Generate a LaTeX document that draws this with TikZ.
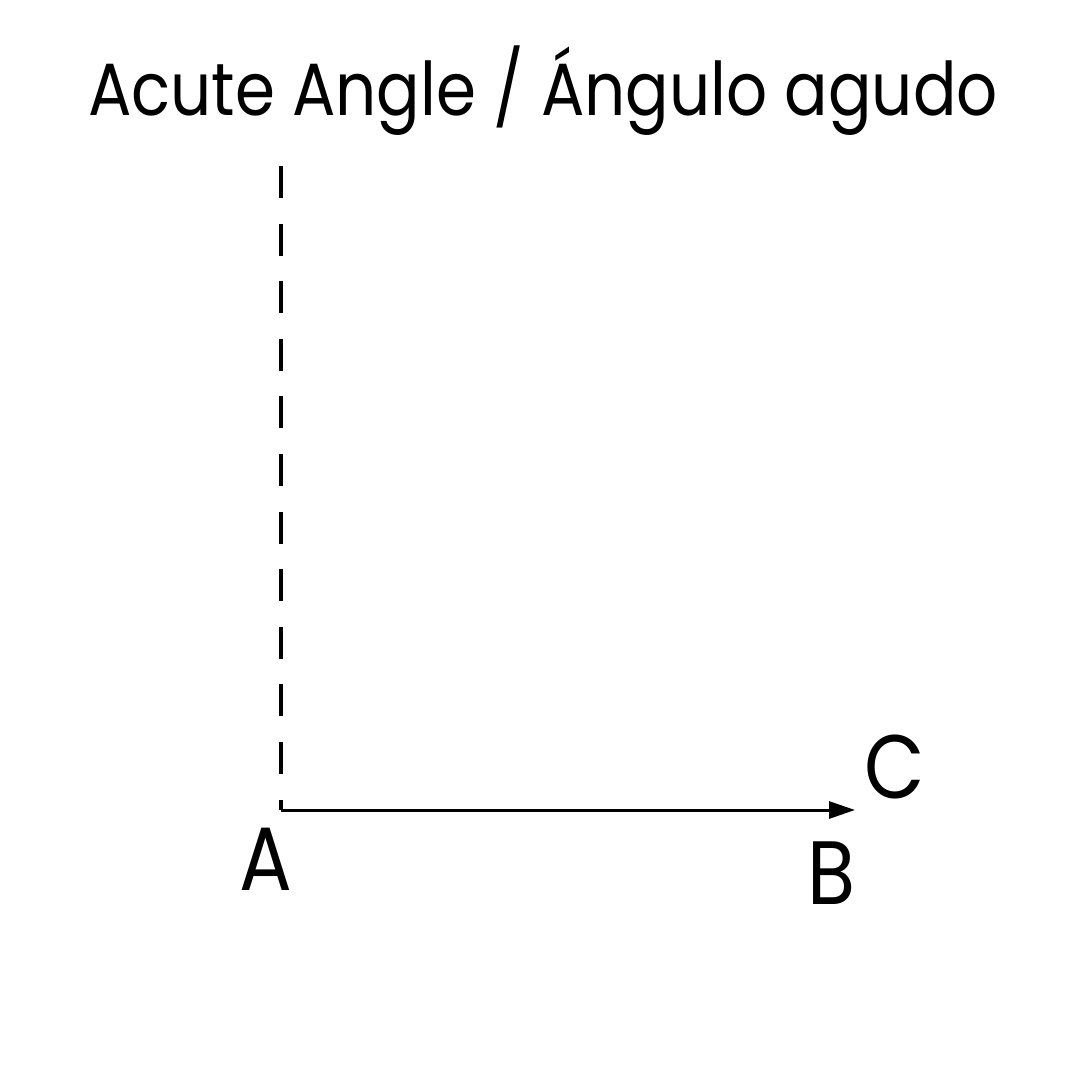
\documentclass[tikz,border=0pt]{standalone}
\usepackage{fontspec}
\setmainfont{Poppins}
\usetikzlibrary{arrows.meta}
\newcommand{\narrow}[1]{\scalebox{0.87}[1]{#1}}
\begin{document}
\begin{tikzpicture}[x=1pt,y=-1pt,
  lbl/.style={inner sep=0pt, font=\fontsize{90}{90}\selectfont},
  ttl/.style={inner sep=0pt, font=\fontsize{74}{74}\selectfont}]
\useasboundingbox[fill=white] (0,0) rectangle (1080,1080);
\node[ttl, anchor=base] (title) at (543,115) {\narrow{Acute Angle / Ángulo agudo}};
\coordinate (top) at (281,166);
\coordinate (A) at (281,810);
\coordinate (B) at (855,810);
\draw[line width=4pt, dash pattern=on 32pt off 25.6pt] (top) -- (A);
\draw[line width=3pt, -{Triangle[length=26pt,width=17pt]}] (A) -- (B);
\node[lbl, anchor=base] (la) at (266,890) {\narrow{A}};
\node[lbl, anchor=base] (lb) at (831,904) {\narrow{B}};
\node[lbl, anchor=base] (lc) at (895,798) {\narrow{C}};
\end{tikzpicture}
\end{document}
